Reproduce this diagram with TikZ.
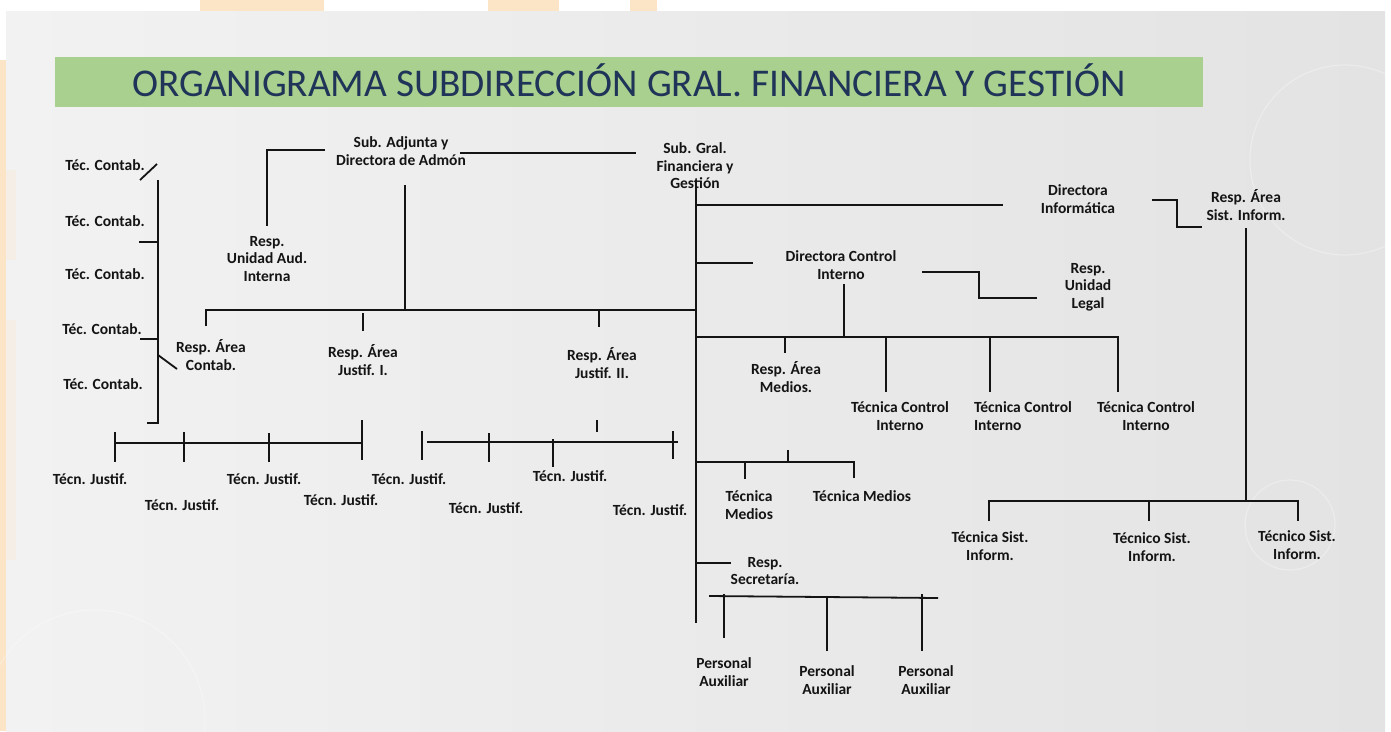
\documentclass[tikz,border=0pt]{standalone}
\usepackage{fontspec}
\setmainfont{Carlito}
\definecolor{slideL}{HTML}{F2F2F2}
\definecolor{slideR}{HTML}{E3E3E3}
\definecolor{bar}{HTML}{A9D08E}
\definecolor{navy}{HTML}{1F3458}
\definecolor{ink}{HTML}{141414}
\definecolor{peach}{HTML}{FCE4C6}
\tikzset{
  lbl/.style={font=\bfseries\fontsize{15.5}{17.5}\selectfont, align=center, inner sep=0pt, text=ink},
  ln/.style={line width=1.8pt, draw=ink},
  deco/.style={draw=white, opacity=0.3, line width=1.2pt}
}
\begin{document}
\begin{tikzpicture}[x=1pt,y=-1pt]
\useasboundingbox (0,0) rectangle (1391,731);
% background
\fill[white] (0,0) rectangle (1391,731);
\fill[peach] (200,0) rectangle (324,11);
\fill[peach] (488,0) rectangle (559,11);
\fill[peach] (630,0) rectangle (657,11);
\fill[peach] (0,60) rectangle (6,731);
\shade[left color=slideL, right color=slideR] (6,11) rectangle (1385,731);
\fill[peach, opacity=0.25] (6,170) rectangle (16,260);
\fill[peach, opacity=0.25] (6,320) rectangle (16,560);
% decorative faint circles
\draw[deco] (1345,160) circle (95);
\draw[deco] (1290,525) circle (45);
\draw[deco] (95,720) circle (110);
% title bar
\fill[bar] (55,57) rectangle (1203,107);
\node[anchor=base west, inner sep=0pt, text=navy, font=\fontsize{39.3}{44}\selectfont] (title) at (132,96) {ORGANIGRAMA SUBDIRECCIÓN GRAL. FINANCIERA Y GESTIÓN};

% nodes
\node[lbl] (tc1) at (105,165) {Téc. Contab.};
\node[lbl] (tc2) at (105,221) {Téc. Contab.};
\node[lbl] (tc3) at (105,274) {Téc. Contab.};
\node[lbl] (tc4) at (102,329) {Téc. Contab.};
\node[lbl] (tc5) at (103,384) {Téc. Contab.};
\node[lbl] (sadj) at (401,151) {Sub. Adjunta y\\Directora de Admón};
\node[lbl] (sgral) at (695,166) {Sub. Gral.\\Financiera y\\Gestión};
\node[lbl] (dinf) at (1078,199) {Directora\\Informática};
\node[lbl] (rsist) at (1246,205) {Resp. Área\\Sist. Inform.};
\node[lbl] (raud) at (267,259) {Resp.\\Unidad Aud.\\Interna};
\node[lbl] (dci) at (841,265) {Directora Control\\Interno};
\node[lbl] (rleg) at (1088,287) {Resp.\\Unidad\\Legal};
\node[lbl] (rcont) at (211,355) {Resp. Área\\Contab.};
\node[lbl] (rj1) at (363,360) {Resp. Área\\Justif. I.};
\node[lbl] (rj2) at (602,363) {Resp. Área\\Justif. II.};
\node[lbl] (rmed) at (786,377) {Resp. Área\\Medios.};
\node[lbl] (tci1) at (900,416) {Técnica Control\\Interno};
\node[lbl, align=left] (tci2) at (1023,416) {Técnica Control\\Interno};
\node[lbl] (tci3) at (1146,416) {Técnica Control\\Interno};
\node[lbl] (tj1) at (90,479) {Técn. Justif.};
\node[lbl] (tj2) at (182,505) {Técn. Justif.};
\node[lbl] (tj3) at (264,479) {Técn. Justif.};
\node[lbl] (tj4) at (341,500) {Técn. Justif.};
\node[lbl] (tj5) at (409,479) {Técn. Justif.};
\node[lbl] (tj6) at (486,508) {Técn. Justif.};
\node[lbl] (tj7) at (570,476) {Técn. Justif.};
\node[lbl] (tj8) at (650,510) {Técn. Justif.};
\node[lbl] (tmed1) at (749,505) {Técnica\\Medios};
\node[lbl] (tmed2) at (862,496) {Técnica Medios};
\node[lbl] (rsec) at (765,571) {Resp.\\Secretaría.};
\node[lbl] (pa1) at (724,672) {Personal\\Auxiliar};
\node[lbl] (pa2) at (827,680) {Personal\\Auxiliar};
\node[lbl] (pa3) at (926,680) {Personal\\Auxiliar};
\node[lbl] (ts1) at (990,546) {Técnica Sist.\\Inform.};
\node[lbl] (ts2) at (1152,547) {Técnico Sist.\\Inform.};
\node[lbl] (ts3) at (1297,545) {Técnico Sist.\\Inform.};

% coordinates: contab bracket
\coordinate (cbA) at (147,423); \coordinate (cbB) at (158,423); \coordinate (cbC) at (158,180);
\coordinate (cs1) at (140,180); \coordinate (cs2) at (157,164);
\coordinate (ct2a) at (139,242); \coordinate (ct2b) at (158,242);
\coordinate (ct4a) at (140,339); \coordinate (ct4b) at (158,339);
\coordinate (cd1) at (158,355); \coordinate (cd2) at (177,369);
% sub adjunta
\coordinate (a1) at (325,150); \coordinate (a2) at (267,150); \coordinate (a3) at (267,226);
\coordinate (a4) at (405,185); \coordinate (a5) at (405,310);
\coordinate (a6) at (460,153); \coordinate (a7) at (636,153);
\coordinate (b1) at (206,326); \coordinate (b2) at (206,310); \coordinate (b3) at (696,310);
\coordinate (b4) at (363,313); \coordinate (b5) at (363,331);
\coordinate (b6) at (599,310); \coordinate (b7) at (599,327);
% justif I group
\coordinate (j1) at (115,443); \coordinate (j2) at (362,443);
\coordinate (j1t) at (115,432); \coordinate (j1b) at (115,462);
\coordinate (j2t) at (184,432); \coordinate (j2b) at (184,462);
\coordinate (j3t) at (269,433); \coordinate (j3b) at (269,462);
\coordinate (j4t) at (362,420); \coordinate (j4b) at (362,460);
% justif II group
\coordinate (k0t) at (597,420); \coordinate (k0b) at (597,432);
\coordinate (k1) at (427,442); \coordinate (k2) at (678,442);
\coordinate (k1t) at (422,431); \coordinate (k1b) at (422,460);
\coordinate (k2t) at (489,433); \coordinate (k2b) at (489,462);
\coordinate (k3t) at (553,439); \coordinate (k3b) at (553,467);
\coordinate (k4t) at (673,431); \coordinate (k4b) at (673,459);
% main spine
\coordinate (m0) at (696,180); \coordinate (m9) at (696,623);
\coordinate (m1a) at (696,205); \coordinate (m1b) at (1003,205);
\coordinate (m2a) at (696,263); \coordinate (m2b) at (753,263);
\coordinate (l1) at (922,272); \coordinate (l2) at (979,272); \coordinate (l3) at (979,298); \coordinate (l4) at (1037,298);
\coordinate (d1) at (844,284); \coordinate (d2) at (844,337);
\coordinate (c1) at (696,337); \coordinate (c2) at (1118,337); \coordinate (c3) at (1118,392);
\coordinate (c4a) at (785,337); \coordinate (c4b) at (785,353);
\coordinate (c5a) at (886,337); \coordinate (c5b) at (886,392);
\coordinate (c6a) at (990,337); \coordinate (c6b) at (990,392);
% medios
\coordinate (e0a) at (788,450); \coordinate (e0b) at (788,462);
\coordinate (e1) at (696,462); \coordinate (e2) at (854,462); \coordinate (e3) at (854,478);
\coordinate (e4a) at (745,462); \coordinate (e4b) at (745,479);
% secretaria
\coordinate (s1) at (696,563); \coordinate (s2) at (731,563);
\coordinate (p1) at (709,596); \coordinate (p2) at (938,598);
\coordinate (p1t) at (724,594); \coordinate (p1b) at (724,638);
\coordinate (p2t) at (827,597); \coordinate (p2b) at (827,651);
\coordinate (p3t) at (922,594); \coordinate (p3b) at (922,651);
% informatica
\coordinate (i1) at (1152,200); \coordinate (i2) at (1177,200); \coordinate (i3) at (1177,227); \coordinate (i4) at (1202,227);
\coordinate (v1) at (1246,228); \coordinate (v2) at (1246,501);
\coordinate (h1) at (989,521); \coordinate (h2) at (989,501); \coordinate (h3) at (1298,501); \coordinate (h4) at (1298,521);
\coordinate (h5a) at (1149,501); \coordinate (h5b) at (1149,521);

% connectors
\draw[ln] (cbA) -- (cbB) -- (cbC);
\draw[ln] (cs1) -- (cs2);
\draw[ln] (ct2a) -- (ct2b);
\draw[ln] (ct4a) -- (ct4b);
\draw[ln] (cd1) -- (cd2);
\draw[ln] (a1) -- (a2) -- (a3);
\draw[ln] (a4) -- (a5);
\draw[ln] (a6) -- (a7);
\draw[ln] (b1) -- (b2) -- (b3);
\draw[ln] (b4) -- (b5);
\draw[ln] (b6) -- (b7);
\draw[ln] (j1) -- (j2);
\draw[ln] (j1t) -- (j1b);
\draw[ln] (j2t) -- (j2b);
\draw[ln] (j3t) -- (j3b);
\draw[ln] (j4t) -- (j4b);
\draw[ln] (k0t) -- (k0b);
\draw[ln] (k1) -- (k2);
\draw[ln] (k1t) -- (k1b);
\draw[ln] (k2t) -- (k2b);
\draw[ln] (k3t) -- (k3b);
\draw[ln] (k4t) -- (k4b);
\draw[ln] (m0) -- (m9);
\draw[ln] (m1a) -- (m1b);
\draw[ln] (m2a) -- (m2b);
\draw[ln] (l1) -- (l2) -- (l3) -- (l4);
\draw[ln] (d1) -- (d2);
\draw[ln] (c1) -- (c2) -- (c3);
\draw[ln] (c4a) -- (c4b);
\draw[ln] (c5a) -- (c5b);
\draw[ln] (c6a) -- (c6b);
\draw[ln] (e0a) -- (e0b);
\draw[ln] (e1) -- (e2) -- (e3);
\draw[ln] (e4a) -- (e4b);
\draw[ln] (s1) -- (s2);
\draw[ln] (p1) -- (p2);
\draw[ln] (p1t) -- (p1b);
\draw[ln] (p2t) -- (p2b);
\draw[ln] (p3t) -- (p3b);
\draw[ln] (i1) -- (i2) -- (i3) -- (i4);
\draw[ln] (v1) -- (v2);
\draw[ln] (h1) -- (h2) -- (h3) -- (h4);
\draw[ln] (h5a) -- (h5b);
\end{tikzpicture}
\end{document}
